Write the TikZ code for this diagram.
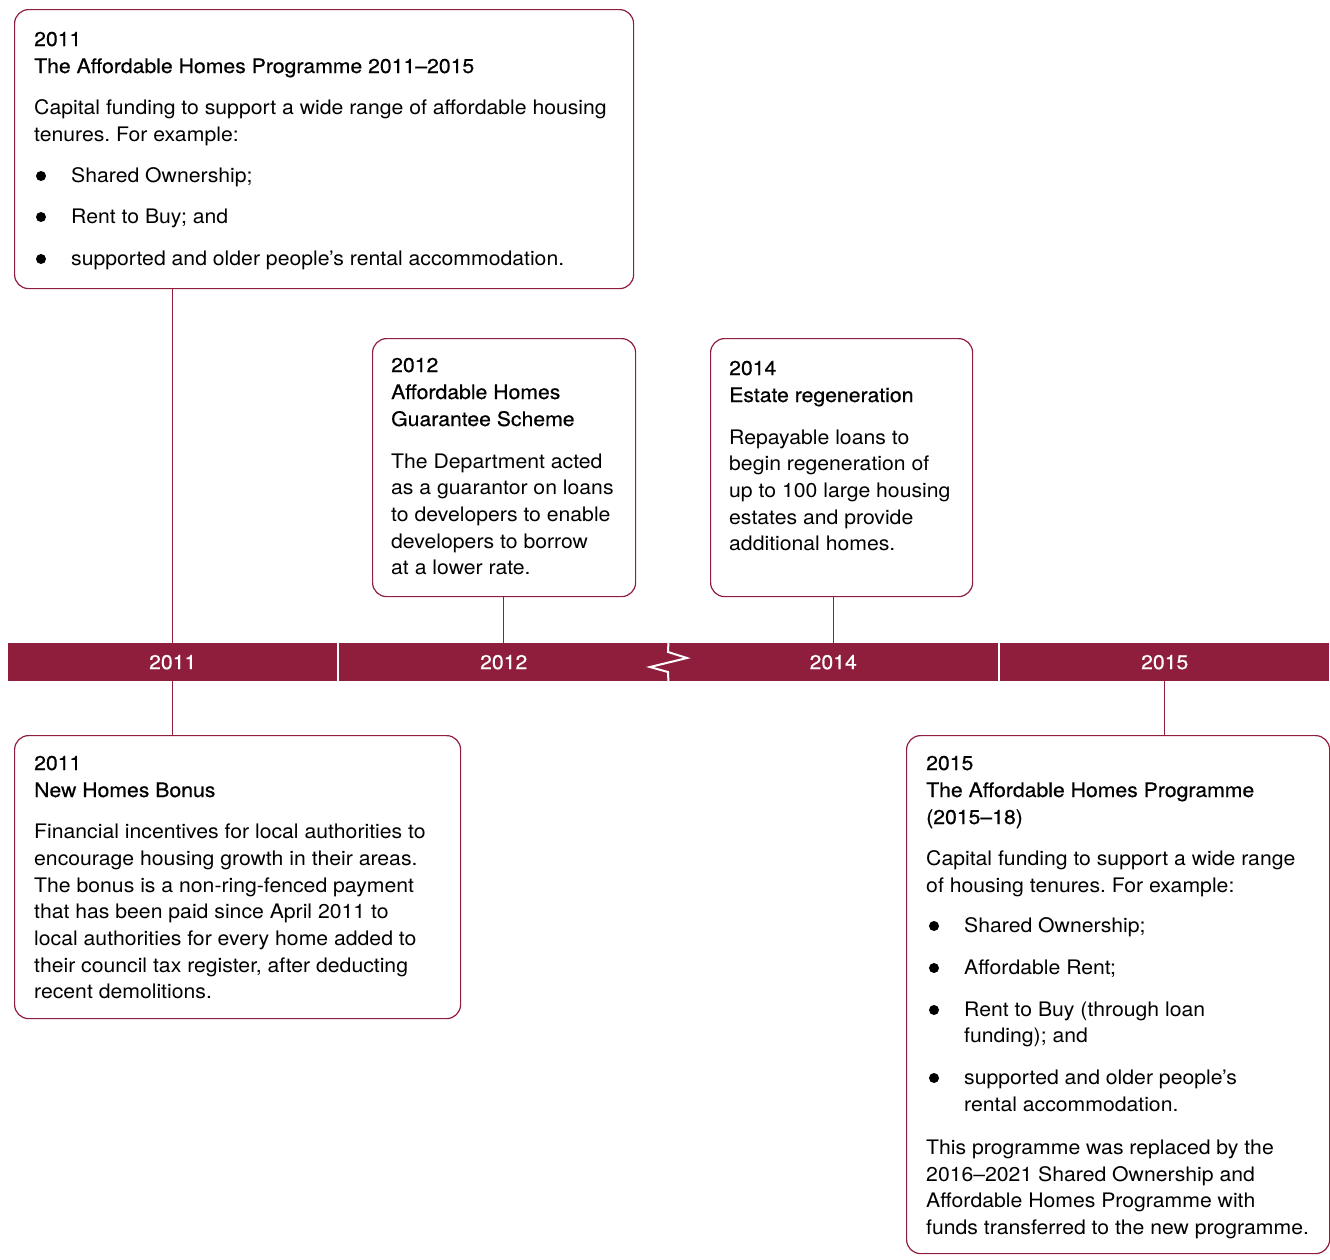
\documentclass[tikz,border=0pt]{standalone}
\usepackage{fontspec}
\setmainfont[FakeStretch=1.06]{TeX Gyre Heros}
\newfontfamily\headfont[FakeStretch=1.06,FakeBold=0.5]{TeX Gyre Heros}
\definecolor{maroon}{RGB}{142,30,60}
\frenchspacing
\newcommand\tline[4]{\node[txt] (#1) at (#2,#3) {#4};}
\newcommand\headline[4]{\node[txt, font=\fontsize{20}{24}\headfont] (#1) at (#2,#3) {#4};}
\newcommand\bline[4]{\node[bul] (#1b) at (#2-30,#3-6) {};\node[txt] (#1) at (#2,#3) {#4};}
\begin{document}
\frenchspacing
\begin{tikzpicture}[x=1pt,y=-1pt,
  box/.style={draw=maroon, line width=1.2pt, rounded corners=14pt, inner sep=0pt, anchor=north west},
  seg/.style={fill=maroon, inner sep=0pt, minimum height=38pt, anchor=north west, text=white, font=\fontsize{20}{24}\headfont},
  txt/.style={anchor=base west, inner sep=0pt, font=\fontsize{20}{24}\selectfont},
  bul/.style={circle, fill=black, inner sep=0pt, minimum size=10pt},
  conn/.style={draw=maroon, line width=1pt}]
\useasboundingbox (0,0) rectangle (1330,1259);
% timeline bar
\node[seg, minimum width=329pt] (seg1) at (8,643) {2011};
\node[seg, minimum width=329pt] (seg2) at (339,643) {2012};
\node[seg, minimum width=330pt] (seg3) at (668,643) {2014};
\node[seg, minimum width=329pt] (seg4) at (1000,643) {2015};
\draw[white, line width=2pt] (seg2.north east) -- (668,652) -- (687,658) -- (650,667) -- (668,672) -- (seg2.south east);
% boxes
\node[box, minimum width=619pt, minimum height=279pt] (boxA) at (14,9) {};
\node[box, minimum width=263pt, minimum height=258pt] (boxB) at (372,338) {};
\node[box, minimum width=262pt, minimum height=258pt] (boxC) at (710,338) {};
\node[box, minimum width=446pt, minimum height=283pt] (boxD) at (14,735) {};
\node[box, minimum width=423pt, minimum height=518pt] (boxE) at (906,735) {};
% connectors
\draw[conn] (seg1.north) -- (seg1.north |- boxA.south);
\draw[conn] (seg2.north) -- (seg2.north |- boxB.south);
\draw[conn] (seg3.north) -- (seg3.north |- boxC.south);
\draw[conn] (seg1.south) -- (seg1.south |- boxD.north);
\draw[conn] (seg4.south) -- (seg4.south |- boxE.north);
% box A
\headline{a1}{34}{46}{2011}
\headline{a2}{34}{73}{The Affordable Homes Programme 2011–2015}
\tline{a3}{34}{114}{Capital funding to support a wide range of affordable housing}
\tline{a4}{34}{141}{tenures. For example:}
\bline{a5}{71}{182}{Shared Ownership;}
\bline{a6}{71}{223}{Rent to Buy; and}
\bline{a7}{71}{265}{supported and older people’s rental accommodation.}
% box B
\headline{b1}{391}{372}{2012}
\headline{b2}{391}{399}{Affordable Homes}
\headline{b3}{391}{426}{Guarantee Scheme}
\tline{b4}{391}{468}{The Department acted}
\tline{b5}{391}{494}{as a guarantor on loans}
\tline{b6}{391}{521}{to developers to enable}
\tline{b7}{391}{548}{developers to borrow}
\tline{b8}{391}{574}{at a lower rate.}
% box C
\headline{c1}{729}{375}{2014}
\headline{c2}{729}{402}{Estate regeneration}
\tline{c3}{729}{444}{Repayable loans to}
\tline{c4}{729}{470}{begin regeneration of}
\tline{c5}{729}{497}{up to 100 large housing}
\tline{c6}{729}{524}{estates and provide}
\tline{c7}{729}{550}{additional homes.}
% box D
\headline{d1}{34}{770}{2011}
\headline{d2}{34}{797}{New Homes Bonus}
\tline{d3}{34}{838}{Financial incentives for local authorities to}
\tline{d4}{34}{865}{encourage housing growth in their areas.}
\tline{d5}{34}{892}{The bonus is a non-ring-fenced payment}
\tline{d6}{34}{918}{that has been paid since April 2011 to}
\tline{d7}{34}{945}{local authorities for every home added to}
\tline{d8}{34}{972}{their council tax register, after deducting}
\tline{d9}{34}{998}{recent demolitions.}
% box E
\headline{e1}{926}{770}{2015}
\headline{e2}{926}{797}{The Affordable Homes Programme}
\headline{e3}{926}{824}{(2015–18)}
\tline{e4}{926}{865}{Capital funding to support a wide range}
\tline{e5}{926}{892}{of housing tenures. For example:}
\bline{e6}{964}{932}{Shared Ownership;}
\bline{e7}{964}{974}{Affordable Rent;}
\bline{e8}{964}{1016}{Rent to Buy (through loan}
\tline{e9}{964}{1042}{funding); and}
\bline{e10}{964}{1084}{supported and older people’s}
\tline{e11}{964}{1111}{rental accommodation.}
\tline{e12}{926}{1154}{This programme was replaced by the}
\tline{e13}{926}{1181}{2016–2021 Shared Ownership and}
\tline{e14}{926}{1207}{Affordable Homes Programme with}
\tline{e15}{926}{1234}{funds transferred to the new programme.}
\end{tikzpicture}
\end{document}
